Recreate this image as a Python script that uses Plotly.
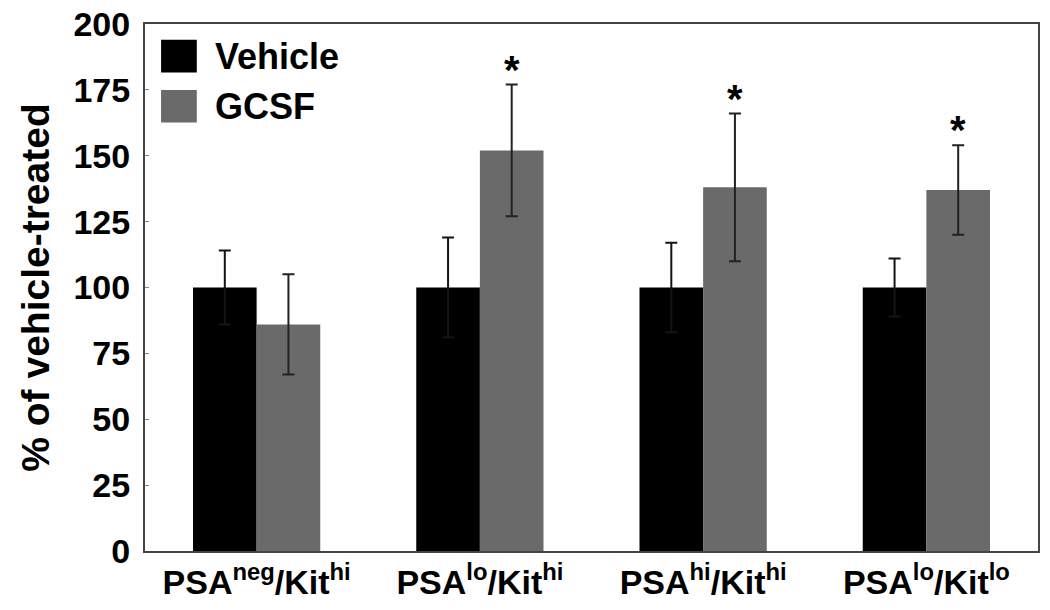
import plotly.graph_objects as go

categories = ["PSAneg/Kithi", "PSAlo/Kithi", "PSAhi/Kithi", "PSAlo/Kitlo"]
tick_labels = ["PSA<sup>neg</sup>/Kit<sup>hi</sup>", "PSA<sup>lo</sup>/Kit<sup>hi</sup>",
               "PSA<sup>hi</sup>/Kit<sup>hi</sup>", "PSA<sup>lo</sup>/Kit<sup>lo</sup>"]
vehicle = [100, 100, 100, 100]
vehicle_err = [14, 19, 17, 11]
gcsf = [86, 152, 138, 137]
gcsf_err = [19, 25, 28, 17]
significant = [False, True, True, True]

FONT = "Liberation Sans, Arial, sans-serif"

fig = go.Figure()
fig.add_trace(go.Bar(name="Vehicle", x=categories, y=vehicle, marker_color="#000000",
                     marker_line_width=0,
                     error_y=dict(type="data", array=vehicle_err,
                                  color="#141414", thickness=2, width=6)))
fig.add_trace(go.Bar(name="GCSF", x=categories, y=gcsf, marker_color="#6a6a6a",
                     marker_line_width=0,
                     error_y=dict(type="data", array=gcsf_err, color="#222222",
                                  thickness=2, width=6)))

for c, m, e, s in zip(categories, gcsf, gcsf_err, significant):
    if s:
        fig.add_annotation(x=c, y=m + e, xref="x", yref="y", text="<b>*</b>",
                           showarrow=False, xshift=32, yshift=-9, yanchor="bottom",
                           font=dict(family=FONT, size=40, color="#000"))

# legend drawn manually (large swatches)
for i, (name, col) in enumerate([("Vehicle", "#000000"), ("GCSF", "#6a6a6a")]):
    y0 = 0.97 - i * 0.095
    fig.add_shape(type="rect", xref="paper", yref="paper", x0=0.018, x1=0.058,
                  y0=y0 - 0.062, y1=y0, fillcolor=col, line=dict(width=0))
    fig.add_annotation(xref="paper", yref="paper", x=0.076, y=y0 - 0.031,
                       text="<b>%s</b>" % name, showarrow=False, xanchor="left",
                       yanchor="middle", font=dict(family=FONT, size=36, color="#000"))

fig.update_layout(
    width=1050, height=610,
    margin=dict(l=145, r=12, t=24, b=59),
    paper_bgcolor="white", plot_bgcolor="white",
    barmode="group", bargap=0.43, bargroupgap=0,
    showlegend=False,
    font=dict(family=FONT, color="#000"),
)
fig.update_xaxes(tickmode="array", tickvals=categories,
                 ticktext=["<b>%s</b>" % t for t in tick_labels],
                 tickfont=dict(family=FONT, size=34, color="#000"),
                 showline=True, linecolor="#444", linewidth=2, mirror=True,
                 ticks="", showgrid=False, automargin=False,
                 ticklabeloverflow="allow")
fig.update_yaxes(range=[0, 200], tickvals=list(range(0, 201, 25)),
                 ticktext=["<b>%d</b>" % v for v in range(0, 201, 25)],
                 tickfont=dict(family=FONT, size=34, color="#000"),
                 showline=True, linecolor="#444", linewidth=2, mirror=True,
                 ticks="inside", ticklen=4, tickcolor="#888", showgrid=False,
                 zeroline=False, ticklabelstandoff=6, automargin=False,
                 ticklabeloverflow="allow",
                 title=dict(text="<b>% of vehicle-treated</b>", standoff=12,
                            font=dict(family=FONT, size=39, color="#000")))

fig.write_html("out.html", config={"displayModeBar": False},
               post_script="document.body.style.margin='0px';")
